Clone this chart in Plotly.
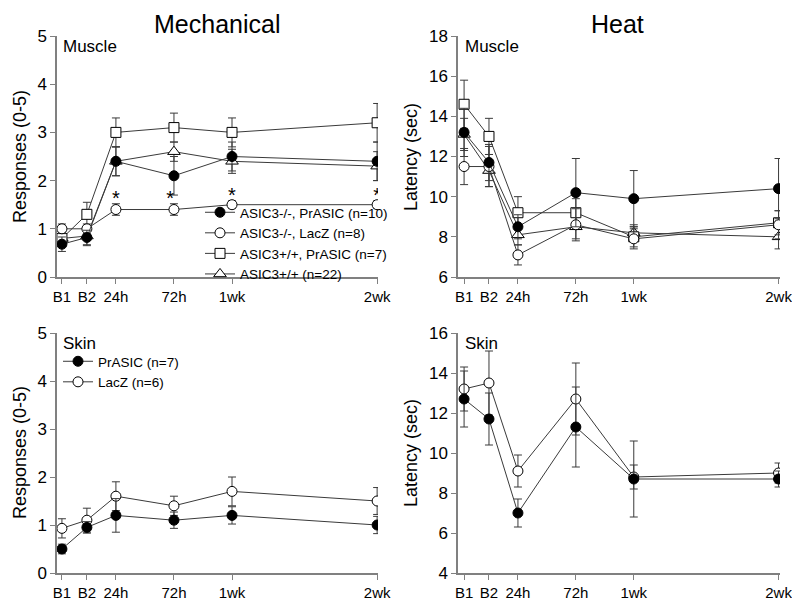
import plotly.graph_objects as go

# ---------------- data ----------------
time_labels = ["B1", "B2", "24h", "72h", "1wk", "2wk"]
time_axis_pos = [-1.86, -1.0, 0, 2, 4, 9]

# Mechanical - Muscle
mm_ko_prasic = [0.68, 0.82, 2.4, 2.1, 2.5, 2.4]
mm_ko_prasic_err = [0.15, 0.15, 0.3, 0.4, 0.3, 0.4]
mm_ko_lacz = [1.0, 1.0, 1.4, 1.4, 1.5, 1.5]
mm_ko_lacz_err = [0.1, 0.1, 0.12, 0.12, 0.08, 0.08]
mm_wt_prasic = [0.8, 1.3, 3.0, 3.1, 3.0, 3.2]
mm_wt_prasic_err = [0.12, 0.25, 0.3, 0.3, 0.3, 0.4]
mm_wt = [0.8, 0.85, 2.4, 2.6, 2.4, 2.3]
mm_wt_err = [0.15, 0.2, 0.3, 0.2, 0.25, 0.3]
mm_sig = ["", "", "*", "*", "*", "*"]

# Heat - Muscle
hm_ko_prasic = [13.2, 11.7, 8.5, 10.2, 9.9, 10.4]
hm_ko_prasic_err = [1.2, 0.9, 0.6, 1.7, 1.4, 1.5]
hm_ko_lacz = [11.5, 11.5, 7.1, 8.6, 7.9, 8.6]
hm_ko_lacz_err = [0.9, 1.0, 0.5, 0.8, 0.5, 0.7]
hm_wt_prasic = [14.6, 13.0, 9.2, 9.2, 8.0, 8.7]
hm_wt_prasic_err = [1.2, 0.9, 0.8, 0.7, 0.5, 0.6]
hm_wt = [13.1, 11.3, 8.1, 8.5, 8.2, 8.0]
hm_wt_err = [0.8, 0.8, 0.5, 0.6, 0.4, 0.6]

# Mechanical - Skin
ms_prasic = [0.5, 0.95, 1.2, 1.1, 1.2, 1.0]
ms_prasic_err = [0.1, 0.12, 0.35, 0.17, 0.18, 0.18]
ms_lacz = [0.93, 1.1, 1.6, 1.4, 1.7, 1.5]
ms_lacz_err = [0.2, 0.25, 0.3, 0.2, 0.3, 0.28]

# Heat - Skin
hs_prasic = [12.7, 11.7, 7.0, 11.3, 8.7, 8.7]
hs_prasic_err = [1.4, 1.3, 0.7, 2.0, 1.9, 0.4]
hs_lacz = [13.2, 13.5, 9.1, 12.7, 8.8, 9.0]
hs_lacz_err = [1.1, 1.6, 0.8, 1.8, 0.6, 0.5]

muscle_names = ["ASIC3-/-, PrASIC (n=10)", "ASIC3-/-, LacZ (n=8)",
                "ASIC3+/+, PrASIC (n=7)", "ASIC3+/+ (n=22)"]
skin_names = ["PrASIC (n=7)", "LacZ (n=6)"]

# ---------------- style ----------------
# the page body has an 8px margin: size the figure to fit the window exactly
OFF = 8
W, H = 800 - OFF, 608 - OFF
FONT = "Liberation Sans, Arial, sans-serif"
LINE = "#3a3a3a"
AXC = "#808080"


def fx(px):
    return (px - OFF) / W


def fy(py):
    return 1 - (py - OFF) / H


styles = {
    "filled": dict(symbol="circle", color="black", size=10),
    "open": dict(symbol="circle", color="white", size=10),
    "square": dict(symbol="square", color="white", size=10),
    "triangle": dict(symbol="triangle-up", color="white", size=11),
}

fig = go.Figure()


def add(xa, ya, y, err, kind, name):
    st = styles[kind]
    fig.add_trace(go.Scatter(
        x=time_axis_pos, y=y, xaxis=xa, yaxis=ya,
        mode="lines+markers", name=name,
        line=dict(color=LINE, width=1),
        marker=dict(symbol=st["symbol"], size=st["size"], color=st["color"],
                    line=dict(color="black", width=1)),
        error_y=dict(type="data", array=err, visible=True, color=LINE,
                     thickness=1, width=4),
        showlegend=False,
    ))


# top-left
add("x", "y", mm_wt, mm_wt_err, "triangle", muscle_names[3])
add("x", "y", mm_wt_prasic, mm_wt_prasic_err, "square", muscle_names[2])
add("x", "y", mm_ko_lacz, mm_ko_lacz_err, "open", muscle_names[1])
add("x", "y", mm_ko_prasic, mm_ko_prasic_err, "filled", muscle_names[0])
# significance markers above the LacZ error bars
sig_y = [v + e + 0.08 for v, e in zip(mm_ko_lacz, mm_ko_lacz_err)]
fig.add_trace(go.Scatter(
    x=time_axis_pos, y=sig_y, xaxis="x", yaxis="y", mode="text",
    text=mm_sig,
    textposition=["middle center", "middle center", "middle center",
                  "middle left", "middle center", "middle center"],
    textfont=dict(family=FONT, size=20, color="black"),
    showlegend=False, hoverinfo="skip"))

# top-right
add("x2", "y2", hm_wt, hm_wt_err, "triangle", muscle_names[3])
add("x2", "y2", hm_wt_prasic, hm_wt_prasic_err, "square", muscle_names[2])
add("x2", "y2", hm_ko_lacz, hm_ko_lacz_err, "open", muscle_names[1])
add("x2", "y2", hm_ko_prasic, hm_ko_prasic_err, "filled", muscle_names[0])

# bottom-left
add("x3", "y3", ms_lacz, ms_lacz_err, "open", skin_names[1])
add("x3", "y3", ms_prasic, ms_prasic_err, "filled", skin_names[0])

# bottom-right
add("x4", "y4", hs_lacz, hs_lacz_err, "open", skin_names[1])
add("x4", "y4", hs_prasic, hs_prasic_err, "filled", skin_names[0])

# legend entries (legend-only items in the desired order)
leg_kinds = ["filled", "open", "square", "triangle"]
for nm, k in zip(muscle_names, leg_kinds):
    st = styles[k]
    fig.add_trace(go.Scatter(
        x=[None], y=[None], xaxis="x", yaxis="y", mode="lines+markers", name=nm,
        line=dict(color=LINE, width=1),
        marker=dict(symbol=st["symbol"], size=st["size"], color=st["color"],
                    line=dict(color="black", width=1)),
        showlegend=True, legend="legend"))
for nm, k in zip(skin_names, ["filled", "open"]):
    st = styles[k]
    fig.add_trace(go.Scatter(
        x=[None], y=[None], xaxis="x3", yaxis="y3", mode="lines+markers", name=nm,
        line=dict(color=LINE, width=1),
        marker=dict(symbol=st["symbol"], size=st["size"], color=st["color"],
                    line=dict(color="black", width=1)),
        showlegend=True, legend="legend2"))

xax_common = dict(
    tickmode="array", tickvals=time_axis_pos, ticktext=time_labels,
    showline=True, linecolor=AXC, linewidth=1.5, ticks="outside",
    ticklen=5, tickcolor=AXC, showgrid=False, zeroline=False,
    automargin=False,
    tickfont=dict(family=FONT, size=15, color="black"),
)
yax_common = dict(
    showline=True, linecolor=AXC, linewidth=1.5, ticks="outside",
    ticklen=5, tickcolor=AXC, showgrid=False, zeroline=False,
    automargin=False,
    tickfont=dict(family=FONT, size=17, color="black"),
)

left_dom = [fx(57), fx(378)]
right_dom = [fx(458), fx(780)]
top_dom = [fy(277), fy(36)]
bot_dom = [fy(573), fy(333)]

fig.update_layout(
    width=W, height=H,
    margin=dict(l=0, r=0, t=0, b=0, pad=0, autoexpand=False),
    paper_bgcolor="white", plot_bgcolor="white",
    font=dict(family=FONT, color="black"),
    xaxis=dict(domain=left_dom, range=[-2.03, 9.03], anchor="y", **xax_common),
    yaxis=dict(domain=top_dom, range=[0, 5], dtick=1, anchor="x", **yax_common),
    xaxis2=dict(domain=right_dom, range=[-2.07, 9.05], anchor="y2", **xax_common),
    yaxis2=dict(domain=top_dom, range=[6, 18], dtick=2, anchor="x2", **yax_common),
    xaxis3=dict(domain=left_dom, range=[-2.03, 9.03], anchor="y3", **xax_common),
    yaxis3=dict(domain=bot_dom, range=[0, 5], dtick=1, anchor="x3", **yax_common),
    xaxis4=dict(domain=right_dom, range=[-2.07, 9.05], anchor="y4", **xax_common),
    yaxis4=dict(domain=bot_dom, range=[4, 16], dtick=2, anchor="x4", **yax_common),
    legend=dict(x=fx(200), y=fy(197), xanchor="left", yanchor="top",
                bgcolor="rgba(0,0,0,0)", font=dict(family=FONT, size=13.5),
                tracegroupgap=0, borderwidth=0),
    legend2=dict(x=fx(58), y=fy(346), xanchor="left", yanchor="top",
                 bgcolor="rgba(0,0,0,0)", font=dict(family=FONT, size=13.5),
                 tracegroupgap=0, borderwidth=0),
    showlegend=True,
)

ann = []
ann.append(dict(text="Mechanical", x=fx(217), y=fy(24.5), xref="paper", yref="paper",
                xanchor="center", yanchor="middle",
                showarrow=False, font=dict(size=25, family=FONT)))
ann.append(dict(text="Heat", x=fx(617), y=fy(24.5), xref="paper", yref="paper",
                xanchor="center", yanchor="middle",
                showarrow=False, font=dict(size=25, family=FONT)))
for xpx, ypx, t in [(20, 157, "Responses (0-5)"), (20, 453, "Responses (0-5)"),
                    (411, 157, "Latency (sec)"), (411, 453, "Latency (sec)")]:
    ann.append(dict(text=t, x=fx(xpx), y=fy(ypx), xref="paper", yref="paper",
                    xanchor="center", yanchor="middle",
                    showarrow=False, textangle=-90, font=dict(size=18, family=FONT)))
for xpx, ypx, t in [(61, 47, "Muscle"), (463, 47, "Muscle"),
                    (61, 343, "Skin"), (463, 343, "Skin")]:
    ann.append(dict(text=t, x=fx(xpx), y=fy(ypx), xref="paper", yref="paper",
                    xanchor="left", yanchor="middle",
                    showarrow=False, font=dict(size=17, family=FONT)))
fig.update_layout(annotations=ann)

fig.write_html("out.html")
